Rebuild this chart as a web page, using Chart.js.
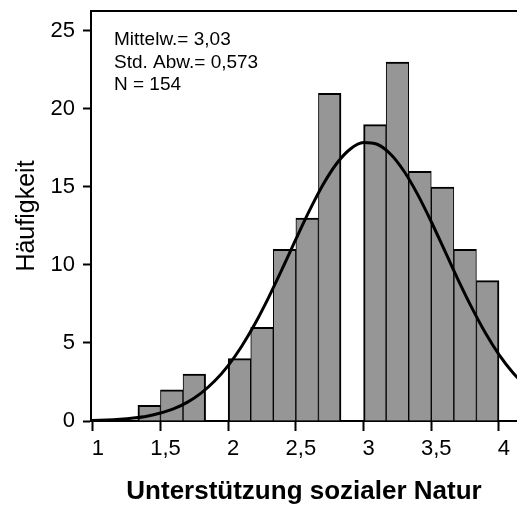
<!DOCTYPE html>
<html>
<head>
<meta charset="utf-8">
<script src="https://cdn.jsdelivr.net/npm/chart.js@4/dist/chart.umd.min.js"></script>
<style>
    body { margin: 0; background: #ffffff; }
</style>
</head>
<body>
<canvas id="histogram" width="517" height="510"></canvas>
<script>
// Histogram data (bin midpoints, bin width 1/6)
var binMids = [1.4167, 1.5833, 1.75, 2.0833, 2.25, 2.4167, 2.5833, 2.75, 3.0833, 3.25, 3.4167, 3.5833, 3.75, 3.9167];
var binCounts = [1, 2, 3, 4, 6, 11, 13, 21, 19, 23, 16, 15, 11, 9];

// Normal curve
var curveX = [0.9, 1.0, 1.1, 1.2, 1.3, 1.4, 1.5, 1.6, 1.7, 1.8, 1.9, 2.0, 2.1, 2.2, 2.3, 2.4, 2.5, 2.6, 2.7, 2.8, 2.9, 3.0, 3.1, 3.2, 3.3, 3.4, 3.5, 3.6, 3.7, 3.8, 3.9, 4.0, 4.1, 4.2];
var curveY = [0.02, 0.03, 0.06, 0.11, 0.19, 0.31, 0.51, 0.79, 1.21, 1.79, 2.56, 3.55, 4.79, 6.26, 7.94, 9.76, 11.65, 13.48, 15.14, 16.49, 17.42, 17.85, 17.74, 17.10, 15.99, 14.51, 12.77, 10.90, 9.02, 7.25, 5.64, 4.26, 3.13, 2.22];

var xTicks = [1, 1.5, 2, 2.5, 3, 3.5, 4];
var yTicks = [0, 5, 10, 15, 20, 25];

var statLines = ["Mittelw.= 3,03", "Std. Abw.= 0,573", "N = 154"];

var fontFamily = '"Liberation Sans", Arial, sans-serif';

function makePoints(xs, ys) {
    var pts = [];
    for (var i = 0; i < xs.length; i++) {
        pts.push({ x: xs[i], y: ys[i] });
    }
    return pts;
}

// outer bar edges get a thicker border, shared edges add up from both bars
function barBorder(context) {
    var i = context.dataIndex;
    var hasLeft = i > 0 && binMids[i] - binMids[i - 1] < 0.2;
    var hasRight = i < binMids.length - 1 && binMids[i + 1] - binMids[i] < 0.2;
    return { top: 2, bottom: 0, left: hasLeft ? 1 : 2, right: hasRight ? 1 : 2 };
}

// draws the top frame line and the statistics text box
var framePlugin = {
    id: 'frame',
    afterDraw: function (chart) {
        var ctx = chart.ctx;
        var area = chart.chartArea;
        ctx.save();
        ctx.strokeStyle = '#000000';
        ctx.lineWidth = 2;
        ctx.beginPath();
        ctx.moveTo(area.left - 1, area.top);
        ctx.lineTo(area.right + 2, area.top);
        ctx.stroke();

        ctx.fillStyle = '#000000';
        ctx.font = '19px ' + fontFamily;
        ctx.textBaseline = 'alphabetic';
        ctx.textAlign = 'left';
        for (var i = 0; i < statLines.length; i++) {
            ctx.fillText(statLines[i], area.left + 23, 45 + i * 22.5);
        }
        ctx.restore();
    }
};

function formatTick(v) {
    return String(v).replace('.', ',');
}

var ctx = document.getElementById('histogram');
var chart = new Chart(ctx, {
    type: 'bar',
    data: {
        datasets: [{
            type: 'line',
            data: makePoints(curveX, curveY),
            borderColor: '#000000',
            borderWidth: 3,
            pointRadius: 0,
            fill: false,
            cubicInterpolationMode: 'monotone',
            order: 0
        }, {
            type: 'bar',
            data: makePoints(binMids, binCounts),
            backgroundColor: '#969696',
            borderColor: '#000000',
            borderWidth: barBorder,
            borderSkipped: false,
            barPercentage: 1,
            categoryPercentage: 1,
            order: 1
        }]
    },
    options: {
        responsive: false,
        animation: false,
        layout: { padding: { top: 11, left: 0, right: 0, bottom: 0 } },
        plugins: {
            legend: { display: false },
            tooltip: { enabled: false }
        },
        scales: {
            x: {
                type: 'linear',
                offset: false,
                min: 0.987,
                max: 4.133,
                afterBuildTicks: function (scale) {
                    scale.ticks = xTicks.map(function (v) { return { value: v }; });
                },
                afterFit: function (scale) { scale.height = 89; },
                grid: {
                    offset: false,
                    drawOnChartArea: false,
                    drawTicks: true,
                    tickLength: 10,
                    tickWidth: 2,
                    tickColor: '#000000'
                },
                border: { display: true, color: '#000000', width: 2 },
                ticks: {
                    color: '#000000',
                    padding: 5,
                    labelOffset: 5,
                    maxRotation: 0,
                    font: { family: fontFamily, size: 22 },
                    callback: function (v) { return formatTick(v); }
                },
                title: {
                    display: true,
                    text: 'Unterstützung sozialer Natur',
                    color: '#000000',
                    font: { family: fontFamily, size: 26, weight: 'bold' },
                    padding: { top: 0, bottom: 3 }
                }
            },
            y: {
                type: 'linear',
                min: 0,
                max: 26.28,
                afterBuildTicks: function (scale) {
                    scale.ticks = yTicks.map(function (v) { return { value: v }; });
                },
                afterFit: function (scale) {
                    scale.width = 91;
                    scale.paddingTop = 0;
                    scale.paddingBottom = 0;
                },
                grid: {
                    drawOnChartArea: false,
                    drawTicks: true,
                    tickLength: 8,
                    tickWidth: 2,
                    tickColor: '#000000'
                },
                border: { display: true, color: '#000000', width: 2 },
                ticks: {
                    color: '#000000',
                    padding: 8,
                    font: { family: fontFamily, size: 22 }
                },
                title: {
                    display: true,
                    text: 'Häufigkeit',
                    color: '#000000',
                    font: { family: fontFamily, size: 25 },
                    padding: { top: 12, bottom: 0 }
                }
            }
        }
    },
    plugins: [framePlugin]
});
</script>
</body>
</html>
